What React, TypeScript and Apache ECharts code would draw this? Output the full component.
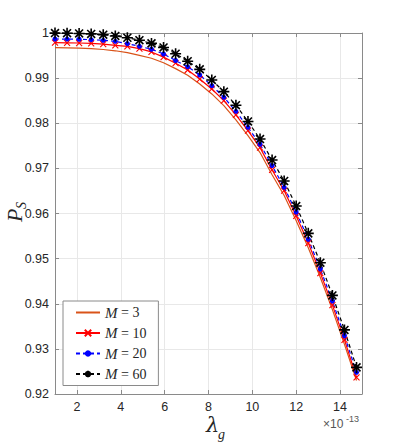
import React, { useEffect, useRef } from "react";
import * as echarts from "echarts";

const xs = [1, 1.55, 2.1, 2.65, 3.2, 3.75, 4.3, 4.85, 5.4, 5.95, 6.5, 7.05, 7.6, 8.15, 8.7, 9.25, 9.8, 10.35, 10.9, 11.45, 12, 12.55, 13.1, 13.65, 14.2, 14.75];

const m3 = [0.99674, 0.99672, 0.99666, 0.99653, 0.99634, 0.99606, 0.99565, 0.99505, 0.9944, 0.9934, 0.9921, 0.99065, 0.9887, 0.9865, 0.9839, 0.98075, 0.97725, 0.9735, 0.9686, 0.964, 0.9584, 0.9524, 0.9458, 0.9387, 0.931, 0.923];
const m10 = [0.99785, 0.99783, 0.99778, 0.99768, 0.99752, 0.99724, 0.99705, 0.99652, 0.9958, 0.99465, 0.9933, 0.9918, 0.9898, 0.9876, 0.985, 0.98185, 0.97835, 0.9746, 0.96965, 0.96505, 0.95945, 0.95345, 0.9468, 0.9397, 0.932, 0.9237];
const m20 = [0.99867, 0.99866, 0.99862, 0.99852, 0.99838, 0.99815, 0.99765, 0.99705, 0.9964, 0.99535, 0.9939, 0.9925, 0.9907, 0.98835, 0.98575, 0.98265, 0.9791, 0.97535, 0.9706, 0.9658, 0.9603, 0.9543, 0.9477, 0.9406, 0.9329, 0.9248];
const m60 = [0.99998, 0.99995, 0.9999, 0.9998, 0.99962, 0.99935, 0.99895, 0.9984, 0.9977, 0.9968, 0.9954, 0.99375, 0.99195, 0.9896, 0.987, 0.984, 0.9804, 0.9765, 0.97185, 0.9672, 0.96165, 0.9556, 0.9491, 0.94185, 0.9342, 0.9259];

const seriesNames = ["M = 3", "M = 10", "M = 20", "M = 60"];
const xTicks = [2, 4, 6, 8, 10, 12, 14];

const STAR = "path://M0,-5L0,5M-5,0L5,0M-3.6,-3.6L3.6,3.6M-3.6,3.6L3.6,-3.6";
const CROSS = "path://M-3,-3L3,3M-3,3L3,-3";

export default function App() {
  const ref = useRef<HTMLDivElement>(null);
  useEffect(() => {
    if (!ref.current) return;
    const chart = echarts.init(ref.current, null, { renderer: "svg" });
    const pts = (v: number[]) => xs.map((x, i) => [x, v[i]]);
    const axisColor = "#8a8a8a";
    const labelStyle = { color: "#262626", fontSize: 12.5, fontFamily: "Liberation Sans, Arial, sans-serif" };
    const hidden = { color: "rgba(0,0,0,0)", borderColor: "rgba(0,0,0,0)", borderWidth: 0, opacity: 0 };
    chart.setOption({
      animation: false,
      backgroundColor: "#fff",
      grid: { left: 55, right: 37, top: 33, bottom: 49 },
      xAxis: [
        {
          type: "value",
          min: 1,
          max: 15,
          splitNumber: 7,
          axisLine: { onZero: false, lineStyle: { color: axisColor } },
          axisTick: { inside: true, length: 4, lineStyle: { color: axisColor }, customValues: xTicks },
          axisLabel: { ...labelStyle, margin: 6, customValues: xTicks },
          splitLine: { show: true, lineStyle: { color: "#e8e8e8" } },
        },
        {
          type: "value",
          position: "top",
          min: 1,
          max: 15,
          splitNumber: 7,
          axisLine: { onZero: false, lineStyle: { color: axisColor } },
          axisTick: { inside: true, length: 4, lineStyle: { color: axisColor }, customValues: xTicks },
          axisLabel: { show: false },
          splitLine: { show: false },
        },
      ],
      yAxis: [
        {
          type: "value",
          min: 0.92,
          max: 1,
          interval: 0.01,
          axisLine: { show: true, onZero: false, lineStyle: { color: axisColor } },
          axisTick: { show: true, inside: true, length: 4, lineStyle: { color: axisColor } },
          axisLabel: { ...labelStyle, margin: 6, formatter: (v: number) => String(Math.round(v * 100) / 100) },
          splitLine: { show: true, lineStyle: { color: "#e8e8e8" } },
        },
        {
          type: "value",
          position: "right",
          min: 0.92,
          max: 1,
          interval: 0.01,
          axisLine: { show: true, onZero: false, lineStyle: { color: axisColor } },
          axisTick: { show: true, inside: true, length: 4, lineStyle: { color: axisColor } },
          axisLabel: { show: false },
          splitLine: { show: false },
        },
      ],
      legend: {
        left: 63,
        top: 301,
        orient: "vertical",
        backgroundColor: "#fff",
        borderColor: "#8a8a8a",
        borderWidth: 1,
        padding: [4, 12, 4, 12],
        itemWidth: 24,
        itemHeight: 8,
        itemGap: 5.5,
        data: [
          { name: seriesNames[0], itemStyle: hidden },
          { name: seriesNames[1] },
          { name: seriesNames[2] },
          { name: seriesNames[3] },
        ],
        formatter: (n: string) => "{i|M}" + n.slice(1),
        textStyle: {
          color: "#262626",
          fontSize: 14,
          lineHeight: 15,
          fontFamily: "Liberation Serif, serif",
          rich: { i: { fontStyle: "italic", fontSize: 15, lineHeight: 15, fontFamily: "Liberation Serif, serif", color: "#262626" } },
        },
      },
      series: [
        {
          name: seriesNames[0],
          type: "line",
          data: pts(m3),
          showSymbol: false,
          symbol: "circle",
          clip: false,
          lineStyle: { color: "#D95319", width: 1.2 },
          itemStyle: { color: "#D95319" },
        },
        {
          name: seriesNames[1],
          type: "line",
          data: pts(m10),
          symbol: CROSS,
          symbolSize: 6,
          clip: false,
          lineStyle: { color: "#ff0000", width: 1.2 },
          itemStyle: { color: "#ff0000", borderColor: "#ff0000", borderWidth: 1.1 },
        },
        {
          name: seriesNames[2],
          type: "line",
          data: pts(m20),
          symbol: "circle",
          symbolSize: 5,
          clip: false,
          lineStyle: { color: "#0000ff", width: 1.2, type: [4, 3] },
          itemStyle: { color: "#0000ff" },
        },
        {
          name: seriesNames[3],
          type: "line",
          data: pts(m60),
          symbol: STAR,
          symbolSize: 11,
          clip: false,
          lineStyle: { color: "#000", width: 1.2, type: [4, 3] },
          itemStyle: { color: "#000", borderColor: "#000", borderWidth: 1.6 },
        },
      ],
      graphic: [
        {
          type: "group",
          x: 20,
          y: 222,
          rotation: Math.PI / 2,
          children: [
            { type: "text", x: 0, y: -17, style: { text: "P", font: "italic 22px 'Liberation Serif', serif", fill: "#262626" } },
            { type: "text", x: 13, y: -6, style: { text: "S", font: "italic 14px 'Liberation Serif', serif", fill: "#262626" } },
          ],
        },
        { type: "text", x: 206, y: 414, style: { text: "λ", font: "italic 21px 'DejaVu Serif', serif", fill: "#262626" } },
        { type: "text", x: 218, y: 427, style: { text: "g", font: "italic 14px 'Liberation Serif', serif", fill: "#262626" } },
        { type: "text", x: 323, y: 418, style: { text: "×10", font: "12px 'Liberation Sans', Arial, sans-serif", fill: "#555" } },
        { type: "text", x: 346, y: 414, style: { text: "-13", font: "9px 'Liberation Sans', Arial, sans-serif", fill: "#555" } },
      ],
    });
    return () => chart.dispose();
  }, []);
  return <div ref={ref} style={{ position: "absolute", left: 0, top: 0, width: 399, height: 443 }} />;
}
